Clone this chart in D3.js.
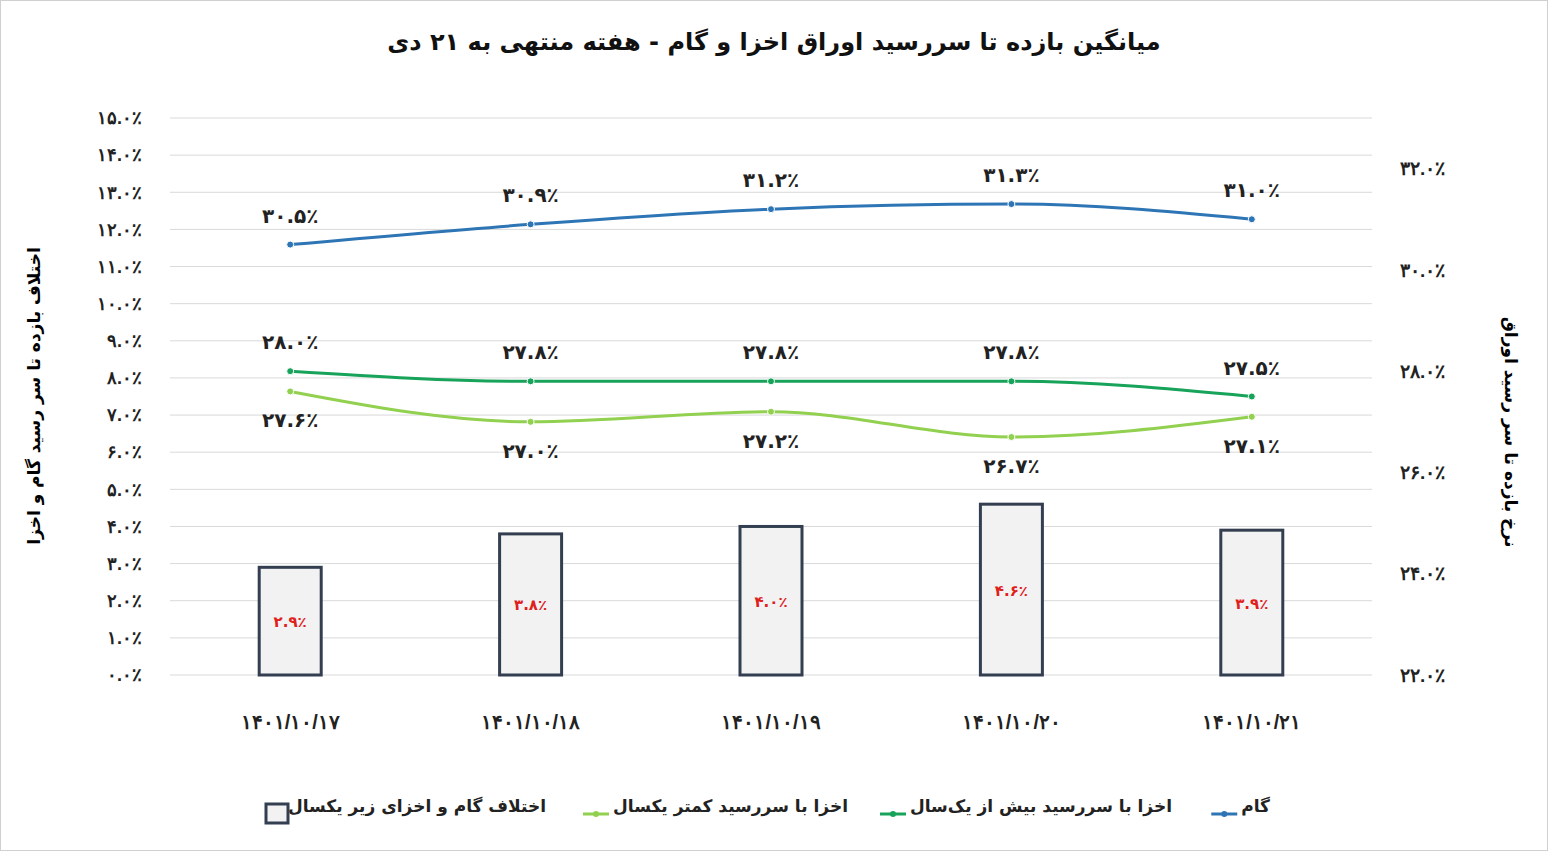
<!DOCTYPE html>
<html><head><meta charset="utf-8">
<script src="https://cdn.jsdelivr.net/npm/d3@7"></script>
<style>body{margin:0;background:#fff;font-family:"DejaVu Sans",sans-serif}</style>
</head><body><svg id="c" width="1548" height="851"></svg>
<script>
// DATA
var dates = ['1401/10/17','1401/10/18','1401/10/19','1401/10/20','1401/10/21']
var gam = [30.5, 30.9, 31.2, 31.3, 31.0]
var akhzaOver = [28.0, 27.8, 27.8, 27.8, 27.5]
var akhzaUnder = [27.6, 27.0, 27.2, 26.7, 27.1]
var diff = [2.9, 3.8, 4.0, 4.6, 3.9]
var leftTicks = d3.range(0, 16, 1)
var rightTicks = [22, 24, 26, 28, 30, 32]

function fa(s){ return String(s).replace(/[0-9]/g, d => '۰۱۲۳۴۵۶۷۸۹'[d]).replace('%','٪') }
function pct(v){ return fa(v.toFixed(1) + '%') }

var svg = d3.select('#c')
svg.append('rect').attr('x',0.5).attr('y',0.5).attr('width',1547).attr('height',850).attr('fill','#fff').attr('stroke','#d0d0d0')

var pLeft = 170, pRight = 1372, pTop = 118, pBottom = 675
var x = d3.scaleBand().domain(dates).range([pLeft, pRight])
var yL = d3.scaleLinear().domain([0, 15]).range([pBottom, pTop])
var yR = d3.scaleLinear().domain([22, 33]).range([pBottom, pTop])

// gridlines
svg.append('g').selectAll('line').data(leftTicks).enter().append('line')
  .attr('x1', pLeft).attr('x2', pRight).attr('y1', d => yL(d)).attr('y2', d => yL(d))
  .attr('stroke', '#d9d9d9')

// left axis
var gl = svg.append('g').attr('transform', `translate(${pLeft},0)`)
  .call(d3.axisLeft(yL).tickValues(leftTicks).tickSize(0).tickPadding(28).tickFormat(pct))
gl.select('.domain').remove()
gl.selectAll('text').attr('font-size', 18).attr('font-weight', 'bold').attr('fill', '#222')

// right axis
var gr = svg.append('g').attr('transform', `translate(${pRight},0)`)
  .call(d3.axisRight(yR).tickValues(rightTicks).tickSize(0).tickPadding(28).tickFormat(pct))
gr.select('.domain').remove()
gr.selectAll('text').attr('font-size', 19).attr('font-weight', 'bold').attr('fill', '#222')

// x axis
var gx = svg.append('g').attr('transform', `translate(0,${pBottom})`)
  .call(d3.axisBottom(x).tickSize(0).tickPadding(40).tickFormat(fa))
gx.select('.domain').remove()
gx.selectAll('text').attr('font-size', 20).attr('font-weight', 'bold').attr('fill', '#222')

// bars
var bw = 62
var cx = d => x(d) + x.bandwidth() / 2
svg.selectAll('rect.bar').data(diff).enter().append('rect').attr('class', 'bar')
  .attr('x', (d, i) => cx(dates[i]) - bw / 2).attr('y', d => yL(d))
  .attr('width', bw).attr('height', d => pBottom - yL(d))
  .attr('fill', '#f2f2f2').attr('stroke', '#333f50').attr('stroke-width', 3)
svg.selectAll('text.bl').data(diff).enter().append('text')
  .attr('x', (d, i) => cx(dates[i])).attr('y', d => (yL(d) + pBottom) / 2 + 6)
  .attr('text-anchor', 'middle').attr('font-size', 15).attr('font-weight', 'bold').attr('fill', '#e0201b')
  .text(pct)

// lines
var series = [
  {name: 'گام', vals: gam, color: '#2e75b6', dy: -22},
  {name: 'اخزا با سررسید بیش از یک‌سال', vals: akhzaOver, color: '#17a35a', dy: -22},
  {name: 'اخزا با سررسید کمتر یکسال', vals: akhzaUnder, color: '#92d050', dy: 36}
]
var line = d3.line().curve(d3.curveMonotoneX).x((d, i) => cx(dates[i])).y(d => yR(d))
series.forEach(function(s){
  svg.append('path').attr('d', line(s.vals)).attr('fill', 'none').attr('stroke', s.color).attr('stroke-width', 3)
  svg.append('g').selectAll('circle').data(s.vals).enter().append('circle')
    .attr('cx', (d, i) => cx(dates[i])).attr('cy', d => yR(d)).attr('r', 3.5)
    .attr('fill', s.color).attr('stroke', '#fff')
  svg.append('g').selectAll('text').data(s.vals).enter().append('text')
    .attr('x', (d, i) => cx(dates[i])).attr('y', d => yR(d) + s.dy)
    .attr('text-anchor', 'middle').attr('font-size', 20).attr('font-weight', 'bold').attr('fill', '#222')
    .text(pct)
})

// titles
svg.append('text').attr('x', 774).attr('y', 50).attr('text-anchor', 'middle')
  .attr('font-size', 24).attr('font-weight', 'bold').attr('fill', '#111')
  .text('میانگین بازده تا سررسید اوراق اخزا و گام - هفته منتهی به ۲۱ دی')
svg.append('text').attr('transform', 'translate(40,396) rotate(-90)').attr('text-anchor', 'middle')
  .attr('font-size', 17).attr('font-weight', 'bold').text('اختلاف بازده تا سر رسید گام و اخزا')
svg.append('text').attr('transform', 'translate(1505,432) rotate(90)').attr('text-anchor', 'middle')
  .attr('font-size', 17).attr('font-weight', 'bold').text('نرخ بازده تا سر رسید اوراق')

// legend
var lg = svg.append('g').attr('font-size', 17).attr('font-weight', 'bold').attr('fill', '#222')
var leg = [
  {x: 1270, s: series[0]},
  {x: 1172, s: series[1]},
  {x: 848, s: series[2]}
]
leg.forEach(function(l){
  var t = lg.append('text').attr('x', l.x).attr('y', 812).attr('text-anchor', 'end').text(l.s.name)
  var w = t.node().getBBox().x - 4
  lg.append('line').attr('x1', w - 26).attr('x2', w).attr('y1', 814).attr('y2', 814).attr('stroke', l.s.color).attr('stroke-width', 3)
  lg.append('circle').attr('cx', w - 13).attr('cy', 814).attr('r', 3).attr('fill', l.s.color)
})
lg.append('text').attr('x', 546).attr('y', 812).attr('text-anchor', 'end').text('اختلاف گام و اخزای زیر یکسال')
lg.append('rect').attr('x', 266).attr('y', 804).attr('width', 22).attr('height', 19)
  .attr('fill', '#f2f2f2').attr('stroke', '#333f50').attr('stroke-width', 3)
</script></body></html>
